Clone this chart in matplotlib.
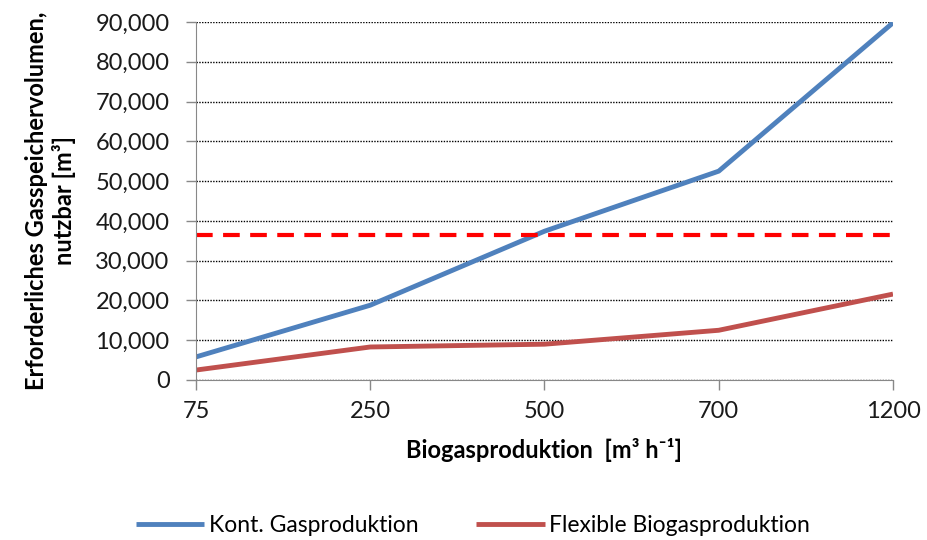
import matplotlib
matplotlib.use("Agg")
import matplotlib.pyplot as plt
from matplotlib.ticker import FuncFormatter

plt.rcParams['font.family'] = ['Lato', 'DejaVu Sans']

categories = ['75', '250', '500', '700', '1200']
kont = [5800, 18800, 37400, 52500, 89800]
flex = [2500, 8300, 9000, 12500, 21600]
grenze = 36400

fig = plt.figure(figsize=(9.27, 5.4), dpi=100)
ax = fig.add_axes([0.2114, 0.2963, 0.7519, 0.663])

x = list(range(len(categories)))
ax.plot(x, kont, color='#4F81BD', lw=3.5, label='Kont. Gasproduktion', solid_capstyle='butt')
ax.plot(x, flex, color='#C0504D', lw=3.5, label='Flexible Biogasproduktion', solid_capstyle='butt')
ax.axhline(grenze, color='#FF0000', lw=3, ls=(0, (4, 2.5)))

ax.set_xlim(0, len(categories) - 1)
ax.set_ylim(0, 90000)
ax.set_yticks(range(0, 90001, 10000))
ax.yaxis.set_major_formatter(FuncFormatter(lambda v, p: f'{int(v):,}'))
ax.set_xticks(x)
ax.set_xticklabels(categories)
ax.yaxis.grid(True, color='black', ls=(0, (1, 1)), lw=1)
ax.set_axisbelow(True)

for s in ['top', 'right']:
    ax.spines[s].set_visible(False)
for s in ['left', 'bottom']:
    ax.spines[s].set_color('#888888')
ax.tick_params(axis='both', colors='#888888', labelcolor='#1a1a1a', labelsize=17, length=7, width=1)
ax.tick_params(axis='y', pad=12)
ax.tick_params(axis='x', pad=8)

ax.set_ylabel('Erforderliches Gasspeichervolumen,\nnutzbar [m³]', fontsize=17, fontweight='bold', labelpad=14)
ax.set_xlabel('Biogasproduktion  [m³ h⁻¹]', fontsize=17, fontweight='bold', labelpad=12)

fig.legend(loc='lower center', bbox_to_anchor=(0.51, -0.03), ncol=2, frameon=False,
           fontsize=16.5, handlelength=3, columnspacing=2.5, handletextpad=0.2)

fig.savefig('out.png', dpi=100)
